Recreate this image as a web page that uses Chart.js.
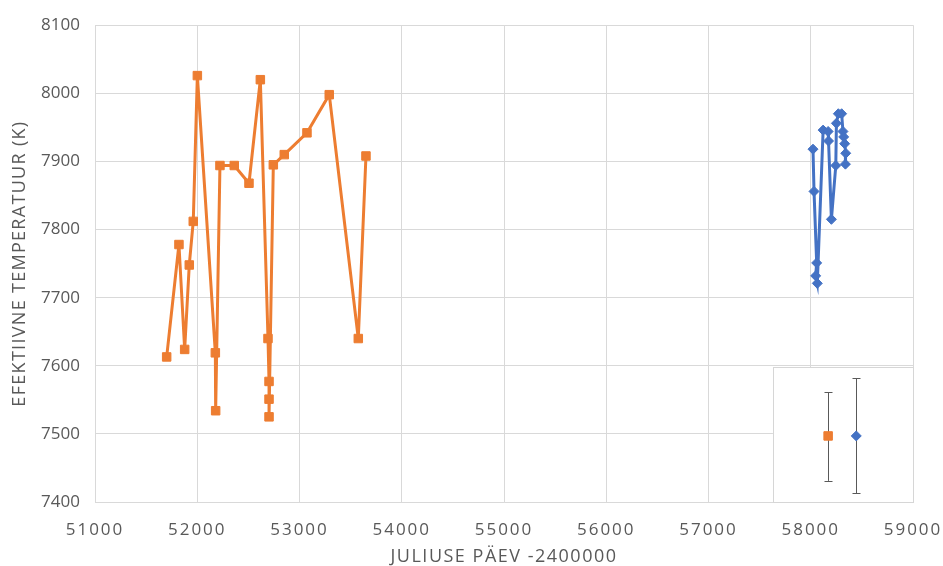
<!DOCTYPE html>
<html lang="et">
<head>
<meta charset="utf-8">
<title>Efektiivne temperatuur</title>
<script src="https://cdn.jsdelivr.net/npm/chart.js@4/dist/chart.umd.min.js"></script>
<style>
  html, body { margin: 0; padding: 0; background: #ffffff; }
  #wrap { width: 943px; height: 566px; }
</style>
</head>
<body>
<div id="wrap"><canvas id="c" width="943" height="566"></canvas></div>
<script>
// Tähe efektiivne temperatuur ajas (kaks mõõteseeriat)
const orangeDays = [51701, 51821, 51877, 51922, 51961, 52001, 52177, 52180, 52222, 52362, 52506,
                    52617, 52692, 52702, 52702, 52702, 52744, 52851, 53073, 53291, 53575, 53650];
const orangeTemps = [7613, 7778, 7624, 7748, 7812, 8026, 7619, 7534, 7894, 7894, 7868,
                     8020, 7640, 7577, 7551, 7525, 7895, 7910, 7942, 7998, 7640, 7908];

const blueDays = [58022, 58032, 58058, 58048, 58064, 58121, 58170, 58174, 58202, 58245,
                  58251, 58270, 58302, 58315, 58322, 58332, 58342, 58339];
const blueTemps = [7918, 7856, 7751, 7732, 7721, 7946, 7944, 7930, 7815, 7894,
                   7956, 7970, 7970, 7944, 7936, 7926, 7912, 7896];

// Tüüpilised veapiirid (väike kast all paremal)
const errDays = [58170, 58445];
const errTemps = [7497, 7497];
const errLow = [7431, 7413];
const errHigh = [7561, 7582];
const errBox = { xMin: 57630, xMax: 59000, yMin: 7400, yMax: 7598 };

const xTicks = [51000, 52000, 53000, 54000, 55000, 56000, 57000, 58000, 59000];
const yTicks = [7400, 7500, 7600, 7700, 7800, 7900, 8000, 8100];

const ORANGE = '#ED7D31';
const BLUE = '#4472C4';
const TEXT = '#595959';
const GRID = '#d9d9d9';
const FONT = '"Open Sans", "Liberation Sans", sans-serif';

// Lineaarne telg, mille siltidel ja pealkirjal on tähevahe
const spacing = { x: { ticks: '2px', title: '1.5px' }, y: { ticks: '0px', title: '1.3px' } };
class SpacedLinearScale extends Chart.LinearScale {
  static id = 'spacedLinear';
  drawLabels(area) {
    const s = spacing[this.id] || {};
    this.ctx.save();
    this.ctx.letterSpacing = s.ticks || '0px';
    super.drawLabels(area);
    this.ctx.restore();
  }
  drawTitle() {
    const s = spacing[this.id] || {};
    this.ctx.save();
    this.ctx.letterSpacing = s.title || '0px';
    super.drawTitle();
    this.ctx.restore();
  }
}
Chart.register(SpacedLinearScale);

const toPoints = (xs, ys) => xs.map((x, i) => ({ x, y: ys[i] }));

// Veapiiride kast ja vurrud andmepunktide alla
const errorBoxPlugin = {
  id: 'errorBox',
  beforeDatasetsDraw(chart) {
    const { ctx, scales: { x, y } } = chart;
    const left = x.getPixelForValue(errBox.xMin);
    const right = x.getPixelForValue(errBox.xMax);
    const top = y.getPixelForValue(errBox.yMax);
    const bottom = y.getPixelForValue(errBox.yMin);
    ctx.save();
    ctx.fillStyle = '#ffffff';
    ctx.fillRect(left, top, right - left, bottom - top);
    ctx.strokeStyle = '#d6d6d6';
    ctx.lineWidth = 1;
    ctx.strokeRect(Math.round(left) + 0.5, Math.round(top) + 0.5,
                   Math.round(right - left), Math.round(bottom - top));
    ctx.strokeStyle = '#595959';
    ctx.lineWidth = 1;
    errDays.forEach((d, i) => {
      const px = Math.round(x.getPixelForValue(d)) + 0.5;
      const yHi = y.getPixelForValue(errHigh[i]);
      const yLo = y.getPixelForValue(errLow[i]);
      ctx.beginPath();
      ctx.moveTo(px, yHi);
      ctx.lineTo(px, yLo);
      ctx.moveTo(px - 4, Math.round(yHi) + 0.5);
      ctx.lineTo(px + 4, Math.round(yHi) + 0.5);
      ctx.moveTo(px - 4, Math.round(yLo) + 0.5);
      ctx.lineTo(px + 4, Math.round(yLo) + 0.5);
      ctx.stroke();
    });
    ctx.restore();
  }
};

new Chart(document.getElementById('c'), {
  type: 'scatter',
  data: {
    datasets: [
      {
        label: 'Seeria 1',
        data: toPoints(orangeDays, orangeTemps),
        showLine: true,
        borderColor: ORANGE,
        backgroundColor: ORANGE,
        borderWidth: 3,
        tension: 0,
        pointStyle: 'rect',
        pointRadius: 6,
        pointBorderWidth: 1,
        pointBorderColor: ORANGE,
        pointBackgroundColor: ORANGE
      },
      {
        label: 'Seeria 2',
        data: toPoints(blueDays, blueTemps),
        showLine: true,
        borderColor: BLUE,
        backgroundColor: BLUE,
        borderWidth: 3,
        tension: 0,
        pointStyle: 'rectRot',
        pointRadius: 5,
        pointBorderWidth: 1,
        pointBorderColor: BLUE,
        pointBackgroundColor: BLUE
      },
      {
        label: 'Viga 1',
        data: [{ x: errDays[0], y: errTemps[0] }],
        showLine: false,
        pointStyle: 'rect',
        pointRadius: 6,
        pointBorderWidth: 1,
        pointBorderColor: ORANGE,
        pointBackgroundColor: ORANGE
      },
      {
        label: 'Viga 2',
        data: [{ x: errDays[1], y: errTemps[1] }],
        showLine: false,
        pointStyle: 'rectRot',
        pointRadius: 5,
        pointBorderWidth: 1,
        pointBorderColor: BLUE,
        pointBackgroundColor: BLUE
      }
    ]
  },
  options: {
    responsive: false,
    devicePixelRatio: 1,
    animation: false,
    events: [],
    layout: { padding: { top: 24, right: 30, bottom: 0, left: 0 } },
    plugins: {
      legend: { display: false },
      tooltip: { enabled: false }
    },
    scales: {
      x: {
        type: 'spacedLinear',
        min: 51000,
        max: 59000,
        afterBuildTicks: s => { s.ticks = xTicks.map(v => ({ value: v })); },
        afterFit: s => { s.height = 64; s.paddingLeft = 0; s.paddingRight = 0; },
        grid: { color: GRID, lineWidth: 1, drawTicks: false },
        border: { color: GRID, width: 1 },
        ticks: {
          color: TEXT,
          font: { family: FONT, size: 17 },
          padding: 18,
          maxRotation: 0,
          autoSkip: false,
          callback: v => String(v)
        },
        title: {
          display: true,
          text: 'JULIUSE PÄEV -2400000',
          color: TEXT,
          font: { family: FONT, size: 18, lineHeight: 1.0 },
          padding: { top: 0, bottom: 0 }
        }
      },
      y: {
        type: 'spacedLinear',
        min: 7400,
        max: 8100,
        afterBuildTicks: s => { s.ticks = yTicks.map(v => ({ value: v })); },
        afterFit: s => { s.width = 95; },
        grid: { color: GRID, lineWidth: 1, drawTicks: false },
        border: { color: GRID, width: 1 },
        ticks: {
          color: TEXT,
          font: { family: FONT, size: 17 },
          padding: 15,
          autoSkip: false,
          callback: v => String(v)
        },
        title: {
          display: true,
          text: 'EFEKTIIVNE TEMPERATUUR (K)',
          color: TEXT,
          font: { family: FONT, size: 18, lineHeight: 1.2 },
          padding: { top: 9, bottom: 0 }
        }
      }
    }
  },
  plugins: [errorBoxPlugin]
});
</script>
</body>
</html>
